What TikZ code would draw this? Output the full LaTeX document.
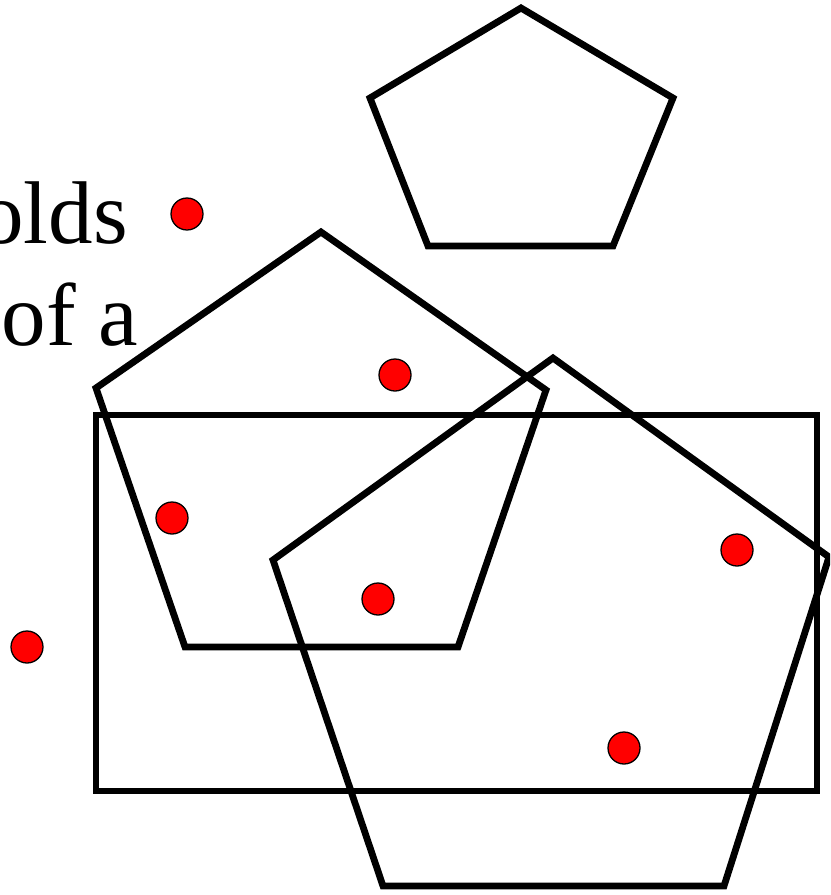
\documentclass[tikz,border=0pt]{standalone}
\usepackage{fontspec}
\setmainfont{Liberation Serif}
\usepackage{tikz}
\definecolor{dotred}{HTML}{FF0000}
\tikzset{
  shape line/.style={line width=5.8pt,line join=miter},
  frame line/.style={line width=4.6pt},
  pt/.style={fill=dotred,draw=black,line width=1.1pt},
  bigtext/.style={font=\fontsize{76}{90}\selectfont,inner sep=0pt}
}

\begin{document}
\begin{tikzpicture}[x=0.03cm,y=-0.03cm]
  % picture frame, text is cut off at the left edge
  \clip (0,0) rectangle (830,895);
  \node[bigtext,anchor=base east] (line1) at (128,243) {olds};
  \node[bigtext,anchor=base east] (line2) at (138,345) {of a};
  % the frame
  \draw[frame line] (96,415) rectangle (817,791);
  % three pentagons
  \draw[shape line] (521,8) -- (673,98) -- (613,246) -- (428,246) -- (370,98) -- cycle;
  \draw[shape line] (321,232) -- (546,390) -- (458,647) -- (185,647) -- (96,388) -- cycle;
  \draw[shape line] (553,358) -- (829,557) -- (724,886) -- (383,886) -- (273,560) -- cycle;
  % red points
  \foreach \p in {(187,214),(395,375),(172,518),(378,599),(737,550),(624,748),(27,647)}
    \filldraw[pt] \p circle[radius=16];
\end{tikzpicture}
\end{document}
